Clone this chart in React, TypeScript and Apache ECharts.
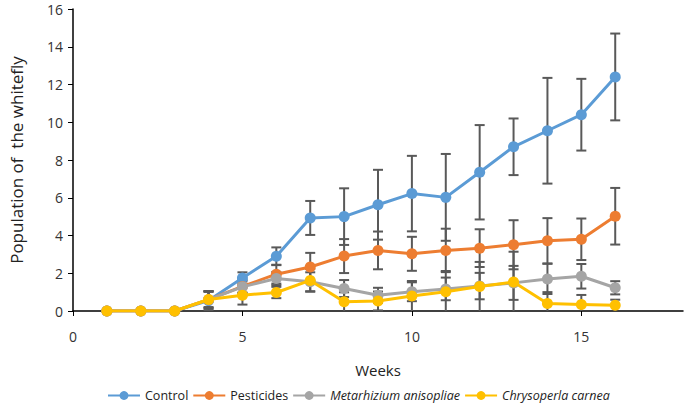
import React, { useRef, useEffect } from 'react';
import * as echarts from 'echarts';

const weeks = [1, 2, 3, 4, 5, 6, 7, 8, 9, 10, 11, 12, 13, 14, 15, 16];
const seriesNames = ['Control', 'Pesticides', 'Metarhizium anisopliae', 'Chrysoperla carnea'];
const italicNames = ['Metarhizium anisopliae', 'Chrysoperla carnea'];
const colors = ['#5B9BD5', '#ED7D31', '#A5A5A5', '#FFC000'];

const control = [0, 0, 0, 0.55, 1.75, 2.9, 4.93, 5.0, 5.63, 6.22, 6.02, 7.35, 8.7, 9.55, 10.4, 12.4];
const pesticides = [0, 0, 0, 0.6, 1.3, 1.95, 2.33, 2.91, 3.21, 3.03, 3.21, 3.33, 3.51, 3.72, 3.8, 5.02];
const metarhizium = [0, 0, 0, 0.6, 1.28, 1.72, 1.55, 1.19, 0.83, 1.02, 1.17, 1.32, 1.49, 1.7, 1.84, 1.23];
const chrysoperla = [0, 0, 0, 0.61, 0.84, 0.98, 1.62, 0.49, 0.53, 0.79, 1.02, 1.3, 1.54, 0.4, 0.35, 0.3];

const controlErr = [0, 0, 0, 0.5, 0.3, 0.47, 0.9, 1.5, 1.85, 2.0, 2.3, 2.5, 1.5, 2.8, 1.9, 2.3];
const pesticidesErr = [0, 0, 0, 0.45, 0.35, 0.5, 0.75, 0.9, 1.0, 0.9, 1.15, 1.0, 1.3, 1.2, 1.1, 1.5];
const metarhiziumErr = [0, 0, 0, 0.45, 0.3, 0.35, 0.5, 0.45, 0.4, 0.5, 0.6, 0.7, 0.9, 0.8, 0.65, 0.35];
const chrysoperlaErr = [0, 0, 0, 0.4, 0.5, 0.3, 0.6, 0.5, 0.5, 0.8, 1.1, 1.3, 1.6, 0.6, 0.5, 0.3];

const xTicks = [0, 5, 10, 15];

const values = [control, pesticides, metarhizium, chrysoperla];
const errors = [controlErr, pesticidesErr, metarhiziumErr, chrysoperlaErr];

const App: React.FC = () => {
  const chartRef = useRef<HTMLDivElement>(null);
  useEffect(() => {
    document.body.style.margin = '0';
    let chart: echarts.ECharts | null = null;
    if (chartRef.current) {
      chart = echarts.init(chartRef.current, null, { renderer: 'svg' });

      // error bars drawn under the lines
      const errorSeries = values.map((vals, si) => ({
        type: 'custom',
        name: 'err' + si,
        z: 1,
        silent: true,
        data: weeks.map((w, i) => [w, vals[i], errors[si][i]]),
        renderItem: (params: any, api: any) => {
          const x = api.value(0);
          const y = api.value(1);
          const e = api.value(2);
          if (!e) return null;
          const lowVal = Math.max(0, y - e);
          const top = api.coord([x, y + e]);
          const bot = api.coord([x, lowVal]);
          const style = { stroke: '#595959', lineWidth: 2 };
          const children: any[] = [
            { type: 'line', shape: { x1: top[0], y1: top[1], x2: bot[0], y2: bot[1] }, style },
            { type: 'line', shape: { x1: top[0] - 5, y1: top[1], x2: top[0] + 5, y2: top[1] }, style },
          ];
          if (y - e > 0) {
            children.push({ type: 'line', shape: { x1: bot[0] - 5, y1: bot[1], x2: bot[0] + 5, y2: bot[1] }, style });
          }
          return { type: 'group', children };
        },
      }));

      const lineSeries = values.map((vals, si) => ({
        type: 'line',
        name: seriesNames[si],
        z: 2 + si,
        data: weeks.map((w, i) => [w, vals[i]]),
        symbol: 'circle',
        symbolSize: 11,
        lineStyle: { width: 3, color: colors[si] },
        itemStyle: { color: colors[si] },
      }));

      const option: any = {
        animation: false,
        grid: { left: 63, right: 2, top: 9, bottom: 92, containLabel: false },
        legend: {
          top: 384,
          left: 102,
          data: seriesNames,
          itemWidth: 32,
          itemHeight: 11,
          itemGap: 4,
          textStyle: {
            fontFamily: 'Open Sans',
            fontSize: 12.5,
            color: '#222',
            rich: { i: { fontStyle: 'italic', fontFamily: 'Open Sans', fontSize: 12.5, color: '#222' } },
          },
          formatter: (name: string) => (italicNames.includes(name) ? `{i|${name}}` : name),
        },
        xAxis: {
          type: 'value',
          min: 0,
          max: 18,
          interval: 5,
          name: 'Weeks',
          nameLocation: 'middle',
          nameGap: 51,
          nameTextStyle: { fontFamily: 'Open Sans', fontSize: 15, color: '#222' },
          splitLine: { show: false },
          axisLine: { lineStyle: { color: '#000', width: 1.5 } },
          axisTick: { customValues: xTicks, length: 5, lineStyle: { color: '#000' } },
          axisLabel: { customValues: xTicks, fontFamily: 'Open Sans', fontSize: 14, color: '#333', margin: 18 },
        },
        yAxis: {
          type: 'value',
          min: 0,
          max: 16,
          interval: 2,
          name: 'Population of  the whitefly',
          nameLocation: 'middle',
          nameGap: 48,
          nameTextStyle: { fontFamily: 'Open Sans', fontSize: 17, color: '#222' },
          splitLine: { show: false },
          axisLine: { show: true, lineStyle: { color: '#000', width: 1.5 } },
          axisTick: { show: true, length: 5, lineStyle: { color: '#000' } },
          axisLabel: { fontFamily: 'Open Sans', fontSize: 14, color: '#333', margin: 10 },
        },
        series: [...errorSeries, ...lineSeries],
      };
      chart.setOption(option);
    }
    return () => {
      if (chart) chart.dispose();
    };
  }, []);

  return <div ref={chartRef} style={{ width: '685px', height: '403px' }} />;
};

export default App;
